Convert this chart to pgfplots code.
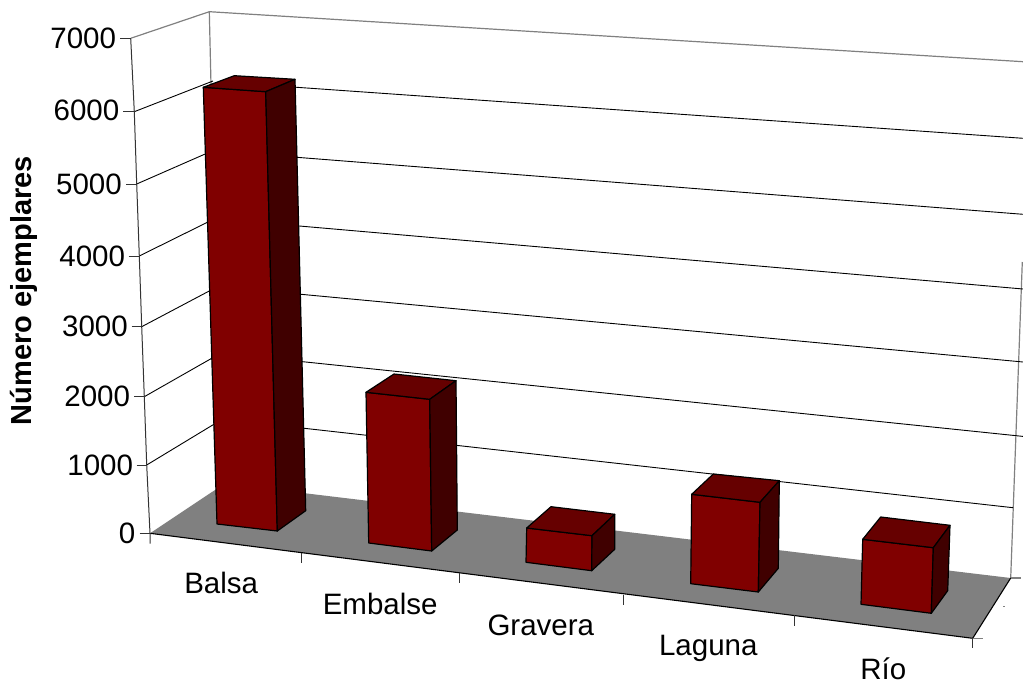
\documentclass[border=0pt]{standalone}
\usepackage{fontspec}
\setmainfont{Liberation Sans}
\usepackage{pgfplots}
\pgfplotsset{compat=1.18}
\definecolor{barfront}{HTML}{800000}
\definecolor{bartop}{HTML}{660000}
\definecolor{barside}{HTML}{400000}
\definecolor{floorgray}{HTML}{808080}
\tikzset{
  front/.style={fill=barfront,draw=black,line width=1.2pt,line join=round},
  top/.style={fill=bartop,draw=black,line width=1.2pt,line join=round},
  side/.style={fill=barside,draw=black,line width=1.2pt,line join=round},
  grid3d/.style={black,line width=0.9pt},
  wall/.style={floorgray,line width=1.2pt},
  axline/.style={black!80,line width=1pt},
  lab/.style={font=\fontsize{29.5}{32}\selectfont,inner sep=0pt,anchor=base},
  num/.style={font=\fontsize{29.5}{32}\selectfont,inner sep=0pt,anchor=base east},
}
\begin{document}
\begin{tikzpicture}
\path[use as bounding box] (0,0) rectangle (1023pt,682pt);
% 3D look: everything is in picture pixels, y downwards
\begin{axis}[scale only axis,width=1023pt,height=682pt,
             xmin=0,xmax=1023,ymin=0,ymax=682,y dir=reverse,
             axis lines=none,clip=true]
% walls
\addplot[wall] coordinates {(130.7,38.3) (209.3,11.7) (1023,61.7)};
\addplot[wall] coordinates {(209.3,11.7) (216,300) (218,483)};
\addplot[wall] coordinates {(1010.7,578) (1015,460) (1022.3,262)};
% gridlines, left wall
\addplot[grid3d] coordinates {(134.3,111.7) (213,81)};
\addplot[grid3d] coordinates {(136.7,184) (212,151)};
\addplot[grid3d] coordinates {(139.3,256) (212,220)};
\addplot[grid3d] coordinates {(141.7,326.7) (213,289)};
\addplot[grid3d] coordinates {(144.3,396.7) (214,357)};
\addplot[grid3d] coordinates {(146.7,465) (216,423)};
% gridlines, back wall
\addplot[grid3d] coordinates {(230,82.5) (296.7,87.3) (1023,138.3)};
\addplot[grid3d] coordinates {(230,151.5) (296.7,157.3) (1023,214.3)};
\addplot[grid3d] coordinates {(230,220) (299.3,226) (1023,289)};
\addplot[grid3d] coordinates {(230,287.5) (301,294.3) (1023,362)};
\addplot[grid3d] coordinates {(230,354.8) (302.7,361.7) (1023,436.4)};
\addplot[grid3d] coordinates {(230,419.8) (304.3,428.3) (1013,507.7)};
% floor
\addplot[fill=floorgray,draw=none] coordinates {(150,533.3) (224.6,483.6) (1010.7,578) (972.7,638.3)} --cycle;
\addplot[black,line width=1.1pt] coordinates {(150,533.3) (972.7,638.3) (1010.7,578)};
% y axis and ticks
\addplot[axline] coordinates {(130.7,38.3) (134.3,111.7) (136.7,184) (139.3,256) (141.7,326.7) (144.3,396.7) (146.7,465) (150,533.3) (150,543.5)};
\addplot[axline] coordinates {(120,38.3) (130.7,38.3)};
\addplot[axline] coordinates {(123.3,111.7) (134.3,111.7)};
\addplot[axline] coordinates {(126,184) (136.7,184)};
\addplot[axline] coordinates {(128.7,256) (139.3,256)};
\addplot[axline] coordinates {(131.7,326.7) (141.7,326.7)};
\addplot[axline] coordinates {(134.3,396.7) (144.3,396.7)};
\addplot[axline] coordinates {(136.7,465) (146.7,465)};
\addplot[axline] coordinates {(139.7,533.3) (150,533.3)};
% x ticks
\addplot[axline] coordinates {(301.7,553.3) (301.7,563.3)};
\addplot[axline] coordinates {(459.3,573.3) (459.3,583.3)};
\addplot[axline] coordinates {(623.3,595) (623.3,604.5)};
\addplot[axline] coordinates {(794.3,615) (794.3,625.7)};
\addplot[axline] coordinates {(972.7,638.3) (972.7,648.3)};
\addplot[wall] coordinates {(972.7,638.3) (982.7,638.3)};
\addplot[wall] coordinates {(1010.7,578) (1021,578)};
\addplot[wall,line width=0.6pt] coordinates {(1003,606.7) (1005,606.7)};
% Balsa
\addplot[front] coordinates {(203.3,87.3) (265.7,91.7) (277.3,531) (217,524)} --cycle;
\addplot[top] coordinates {(203.3,87.3) (234.3,75.7) (295,79.3) (265.7,91.7)} --cycle;
\addplot[side] coordinates {(265.7,91.7) (295,79.3) (305.7,510.7) (277.3,531)} --cycle;
% Embalse
\addplot[front] coordinates {(366,392.3) (429.7,399.3) (431.7,551) (368.7,543)} --cycle;
\addplot[top] coordinates {(366,392.3) (394,374) (456,380.7) (429.7,399.3)} --cycle;
\addplot[side] coordinates {(429.7,399.3) (456,380.7) (457.3,530) (431.7,551)} --cycle;
% Gravera
\addplot[front] coordinates {(526.7,528) (592,535.7) (591.7,570.7) (526,562.3)} --cycle;
\addplot[top] coordinates {(526.7,528) (551,506.7) (614.7,514.3) (592,535.7)} --cycle;
\addplot[side] coordinates {(592,535.7) (614.7,514.3) (614.7,549.3) (591.7,570.7)} --cycle;
% Laguna
\addplot[front] coordinates {(691.7,494.3) (760,502.3) (758.3,592) (690.7,583.7)} --cycle;
\addplot[top] coordinates {(691.7,494.3) (713.3,474) (779.3,480.7) (760,502.3)} --cycle;
\addplot[side] coordinates {(760,502.3) (779.3,480.7) (778.3,568.3) (758.3,592)} --cycle;
% Rio
\addplot[front] coordinates {(862.7,539.3) (933.3,547.7) (931.3,613.3) (861,604.3)} --cycle;
\addplot[top] coordinates {(862.7,539.3) (880.7,517) (950,525.3) (933.3,547.7)} --cycle;
\addplot[side] coordinates {(933.3,547.7) (950,525.3) (947.7,590.7) (931.3,613.3)} --cycle;
% labels
\node[num] at (axis cs:116.2,48.3) {7000};
\node[num] at (axis cs:119.5,121) {6000};
\node[num] at (axis cs:122,194.3) {5000};
\node[num] at (axis cs:125.2,266.7) {4000};
\node[num] at (axis cs:128,336) {3000};
\node[num] at (axis cs:130.2,406) {2000};
\node[num] at (axis cs:133.2,475) {1000};
\node[num] at (axis cs:135.5,543.3) {0};
\node[lab] at (axis cs:221.2,593.3) {Balsa};
\node[lab] at (axis cs:380.2,614) {Embalse};
\node[lab] at (axis cs:540.8,635) {Gravera};
\node[lab] at (axis cs:708.3,655.7) {Laguna};
\node[lab] at (axis cs:883.3,679) {Río};
\node[lab,rotate=90,font=\fontsize{29}{32}\selectfont\bfseries] at (axis cs:31.7,290.5) {Número ejemplares};
\end{axis}
\end{tikzpicture}
\end{document}
